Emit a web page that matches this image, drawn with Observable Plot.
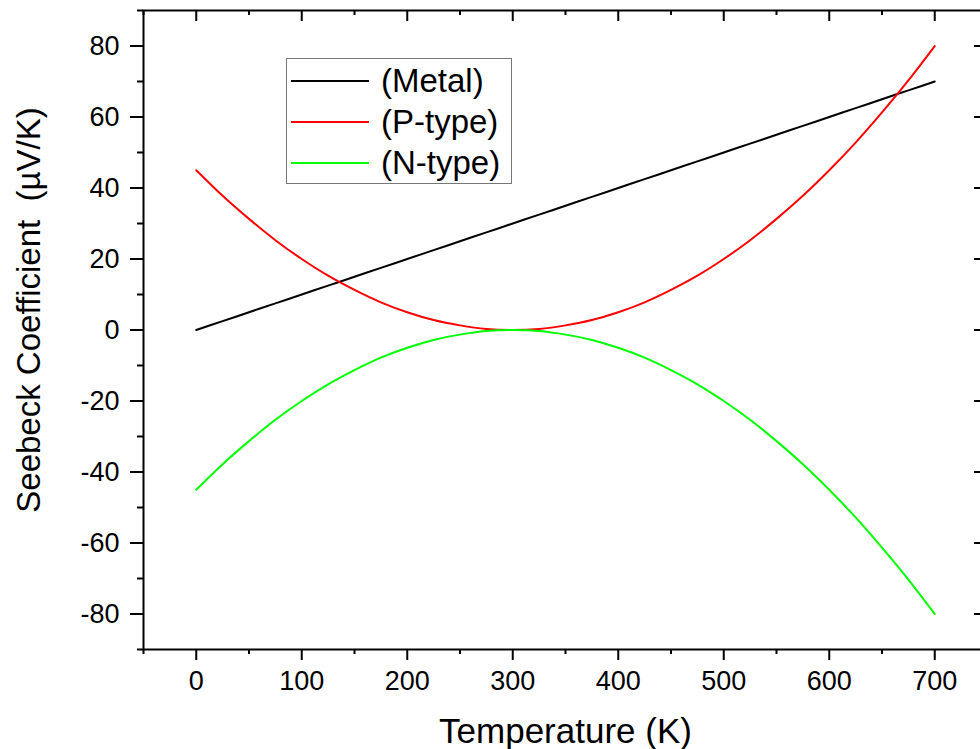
<!DOCTYPE html>
<html>
<head>
<meta charset="utf-8">
<script src="https://cdn.jsdelivr.net/npm/d3@7"></script>
<script src="https://cdn.jsdelivr.net/npm/@observablehq/plot@0.6"></script>
<style>
  html, body { margin: 0; padding: 0; background: #fff; overflow: hidden; }
  #wrap { position: relative; width: 980px; height: 749px; }
  svg text { white-space: pre; }
  #legend {
    position: absolute; left: 286px; top: 58px; width: 224px; height: 124px;
    border: 1.5px solid #777; background: #fff; box-sizing: content-box;
    font-family: "Liberation Sans", Arial, sans-serif; font-size: 33px; color: #000;
  }
  .row { position: absolute; left: 0; height: 38px; display: flex; align-items: center; }
  .sw { width: 78px; height: 2.5px; margin-left: 4px; margin-right: 12px; }
</style>
</head>
<body>
<div id="wrap"><div id="legend"></div></div>
<script>
// ---- data ----
const temperature = [0, 25, 50, 75, 100, 125, 150, 175, 200, 225, 250, 275, 300, 325, 350, 375, 400, 425, 450, 475, 500, 525, 550, 575, 600, 625, 650, 675, 700];
const metal  = [0, 2.5, 5, 7.5, 10, 12.5, 15, 17.5, 20, 22.5, 25, 27.5, 30, 32.5, 35, 37.5, 40, 42.5, 45, 47.5, 50, 52.5, 55, 57.5, 60, 62.5, 65, 67.5, 70];
const pType  = [45, 37.8, 31.3, 25.3, 20, 15.3, 11.3, 7.8, 5, 2.8, 1.3, 0.3, 0, 0.3, 1.3, 2.8, 5, 7.8, 11.3, 15.3, 20, 25.3, 31.3, 37.8, 45, 52.8, 61.3, 70.3, 80];
const nType  = [-45, -37.8, -31.3, -25.3, -20, -15.3, -11.3, -7.8, -5, -2.8, -1.3, -0.3, 0, -0.3, -1.3, -2.8, -5, -7.8, -11.3, -15.3, -20, -25.3, -31.3, -37.8, -45, -52.8, -61.3, -70.3, -80];
const seriesNames = ["(Metal)", "(P-type)", "(N-type)"];
const seriesColors = ["#000000", "#ff0000", "#00ff00"];
const xMajor = [0, 100, 200, 300, 400, 500, 600, 700];
const xMinor = [-50, 50, 150, 250, 350, 450, 550, 650, 750];
const yMajor = [-80, -60, -40, -20, 0, 20, 40, 60, 80];
const yMinor = [-90, -70, -50, -30, -10, 10, 30, 50, 70, 90];
const xLabel = "Temperature (K)";
const yLabel = "Seebeck Coefficient  (µV/K)";

const seriesValues = [metal, pType, nType];
const rows = [];
seriesNames.forEach((name, i) => {
  temperature.forEach((t, j) => rows.push({series: name, T: t, S: seriesValues[i][j]}));
});

const W = 980, H = 749;
const mL = 143, mR = -7, mT = 10, mB = 100;
const innerW = W - mL - mR, innerH = H - mT - mB;
const font = "'Liberation Sans', Arial, sans-serif";

const chart = Plot.plot({
  width: W, height: H,
  marginLeft: mL, marginRight: mR, marginTop: mT, marginBottom: mB,
  style: {fontFamily: font, fontSize: "27px", color: "#000", background: "#fff", overflow: "visible"},
  x: {domain: [-50, 750]},
  y: {domain: [-90, 90]},
  color: {domain: seriesNames, range: seriesColors},
  marks: [
    Plot.axisX({anchor: "bottom", ticks: xMajor, tickSize: 11, tickPadding: 10, strokeWidth: 2, tickFormat: d => String(d), label: null, fontSize: 27}),
    Plot.axisX({anchor: "bottom", ticks: xMinor, tickSize: 5, strokeWidth: 2, text: null, label: null}),
    Plot.axisY({anchor: "left", ticks: yMajor, tickSize: 13, tickPadding: 11, strokeWidth: 2, tickFormat: d => String(d), label: null, fontSize: 27}),
    Plot.axisY({anchor: "left", ticks: yMinor, tickSize: 6, strokeWidth: 2, text: null, label: null}),
    Plot.tickX(xMajor, {x: d => d, insetBottom: innerH - 11, strokeWidth: 2, stroke: "#000"}),
    Plot.tickX(xMinor, {x: d => d, insetBottom: innerH - 5, strokeWidth: 2, stroke: "#000"}),
    Plot.tickY(yMajor, {y: d => d, insetLeft: innerW - 13, strokeWidth: 2, stroke: "#000"}),
    Plot.tickY(yMinor, {y: d => d, insetLeft: innerW - 6, strokeWidth: 2, stroke: "#000"}),
    Plot.frame({stroke: "#000", strokeWidth: 2}),
    Plot.line(rows, {x: "T", y: "S", z: "series", stroke: "series", strokeWidth: 2, curve: "natural"}),
    Plot.text([xLabel], {text: d => d, frameAnchor: "bottom", textAnchor: "middle", lineAnchor: "middle", dy: 82, fontSize: 35}),
    Plot.text([yLabel], {text: d => d, frameAnchor: "left", textAnchor: "middle", lineAnchor: "middle", rotate: -90, dx: -114, dy: -20, fontSize: 33})
  ]
});
const wrap = document.getElementById("wrap");
wrap.insertBefore(chart, wrap.firstChild);

const legend = document.getElementById("legend");
seriesNames.forEach((name, i) => {
  const r = document.createElement("div");
  r.className = "row";
  r.style.top = (3 + i * 41) + "px";
  const sw = document.createElement("span");
  sw.className = "sw";
  sw.style.background = seriesColors[i];
  const tx = document.createElement("span");
  tx.textContent = name;
  r.appendChild(sw); r.appendChild(tx);
  legend.appendChild(r);
});
</script>
</body>
</html>
